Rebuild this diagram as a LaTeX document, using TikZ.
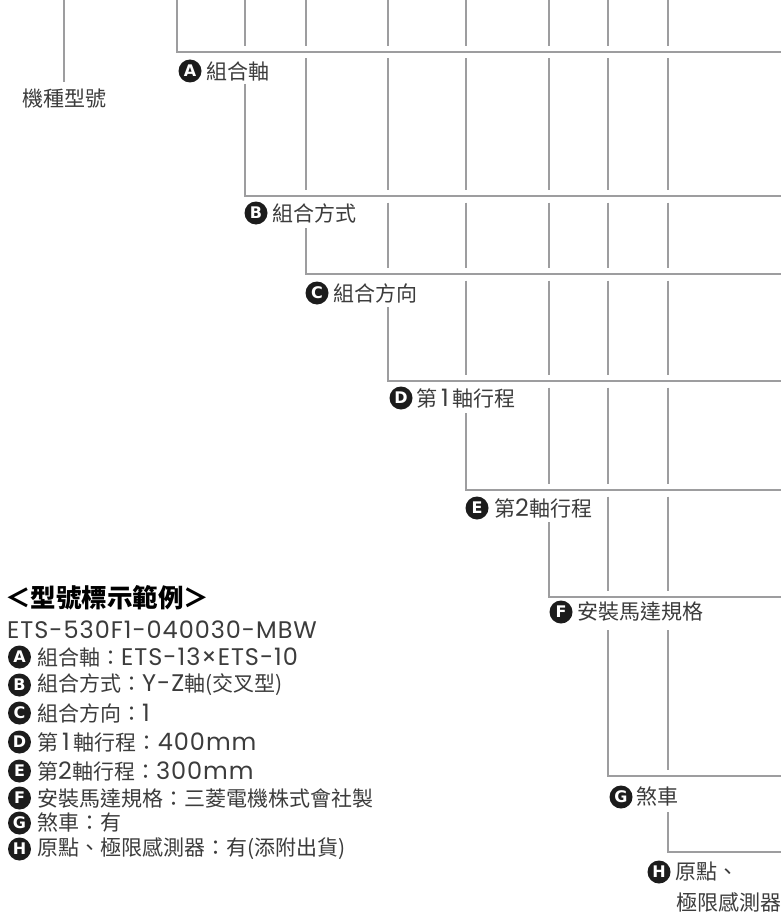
\documentclass[tikz,border=0pt]{standalone}
\usepackage{fontspec}
\setmainfont{Noto Sans CJK TC}
\newfontfamily\latf{Poppins}[LetterSpace=4]
\newcommand\lat{\latf\fontsize{24}{24}\selectfont}
\newfontfamily\bdg{DejaVu Sans}
\definecolor{linegray}{HTML}{9D9D9F}
\definecolor{txt}{HTML}{3C3C3C}
\definecolor{dot}{HTML}{1C1C1C}
\begin{document}
\begin{tikzpicture}[x=1pt,y=-1pt,
  ln/.style={draw=linegray,line width=2.8pt},
  lbl/.style={anchor=west,inner sep=0pt,text=txt,font=\fontsize{21}{21}\selectfont},
  dotc/.style={circle,fill=dot,minimum size=23pt,inner sep=0pt,text=white,font=\bdg\bfseries\fontsize{16}{16}\selectfont},
]
\useasboundingbox[fill=white] (0,0) rectangle (781,915);

% broken vertical segments
\foreach \x/\a/\b in {
 64/0/82,
 245/0/46,
 306/0/46, 306/58.5/190,
 388/0/46, 388/58.5/190, 388/202.5/268,
 466/0/46, 466/58.5/190, 466/202.5/268, 466/280.5/375,
 549/0/46, 549/58.5/190, 549/202.5/268, 549/280.5/375, 549/387.5/484,
 608/0/46, 608/58.5/190, 608/202.5/268, 608/280.5/375, 608/387.5/484, 608/496.5/591,
 668/0/46, 668/58.5/190, 668/202.5/268, 668/280.5/375, 668/387.5/484, 668/496.5/591, 668/630/770}
 \draw[ln] (\x,\a) -- (\x,\b);

% brackets
\coordinate (a1) at (177,0);   \coordinate (a2) at (177,52);  \coordinate (a3) at (781,52);
\coordinate (b1) at (245,84);  \coordinate (b2) at (245,196); \coordinate (b3) at (781,196);
\coordinate (c1) at (306,228); \coordinate (c2) at (306,274); \coordinate (c3) at (781,274);
\coordinate (d1) at (388,307); \coordinate (d2) at (388,381); \coordinate (d3) at (781,381);
\coordinate (e1) at (466,413); \coordinate (e2) at (466,490); \coordinate (e3) at (781,490);
\coordinate (f1) at (549,522); \coordinate (f2) at (549,597); \coordinate (f3) at (781,597);
\coordinate (g1) at (608,630); \coordinate (g2) at (608,776); \coordinate (g3) at (781,776);
\coordinate (h1) at (668,812); \coordinate (h2) at (668,852); \coordinate (h3) at (781,852);
\foreach \k in {a,b,c,d,e,f,g,h}
  \draw[ln] (\k1) -- (\k2) -- (\k3);

% labels
\node[lbl,anchor=center] (model) at (64.5,99) {機種型號};
\node[dotc] (dA) at (190,71) {A};  \node[lbl] (tA) at (206,71) {組合軸};
\node[dotc] (dB) at (256,213) {B}; \node[lbl] (tB) at (272,213) {組合方式};
\node[dotc] (dC) at (317,293) {C}; \node[lbl] (tC) at (333,293) {組合方向};
\node[dotc] (dD) at (401,398) {D}; \node[lbl] (tD) at (416,398) {第{\lat\,1\,}軸行程};
\node[dotc] (dE) at (477,508) {E}; \node[lbl] (tE) at (494,508) {第{\lat 2}軸行程};
\node[dotc] (dF) at (561,612) {F}; \node[lbl] (tF) at (577,612) {安裝馬達規格};
\node[dotc] (dG) at (621,797) {G}; \node[lbl] (tG) at (636,797) {煞車};
\node[dotc] (dH) at (659,872) {H}; \node[lbl] (tH) at (675,872) {原點、};
\node[lbl] (tH2) at (676,902) {極限感測器};

% example list
\node[anchor=west,inner sep=0pt,text=black,font=\bfseries\fontsize{25.5}{25.5}\selectfont] (title) at (5,598) {＜型號標示範例＞};
\node[lbl] (code) at (7,630) {\lat ETS-530F1-040030-MBW};
\node[dotc] (lA) at (19.5,657) {A}; \node[lbl] (xA) at (37,657) {組合軸：{\lat ETS-13×ETS-10}};
\node[dotc] (lB) at (19.5,685) {B}; \node[lbl] (xB) at (37,685) {組合方式：{\lat Y-Z}軸(交叉型)};
\node[dotc] (lC) at (19.5,713) {C}; \node[lbl] (xC) at (37,713) {組合方向：{\lat 1}};
\node[dotc] (lD) at (19.5,742) {D}; \node[lbl] (xD) at (37,742) {第{\lat\,1\,}軸行程：{\lat 400mm}};
\node[dotc] (lE) at (19.5,771) {E}; \node[lbl] (xE) at (37,771) {第{\lat 2}軸行程：{\lat 300mm}};
\node[dotc] (lF) at (19.5,798) {F}; \node[lbl] (xF) at (37,798) {安裝馬達規格：三菱電機株式會社製};
\node[dotc] (lG) at (19.5,823) {G}; \node[lbl] (xG) at (37,823) {煞車：有};
\node[dotc] (lH) at (19.5,849) {H}; \node[lbl] (xH) at (37,849) {原點、極限感測器：有(添附出貨)};
\end{tikzpicture}
\end{document}
